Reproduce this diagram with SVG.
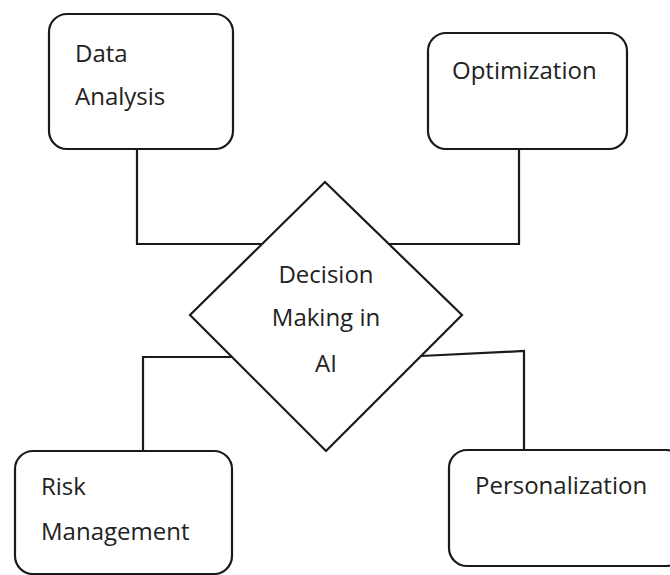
<svg xmlns="http://www.w3.org/2000/svg" width="670" height="575" viewBox="0 0 670 575">
  <style>
    .box { fill: #ffffff; stroke: #1a1a1a; stroke-width: 2.2; }
    .link { fill: none; stroke: #1a1a1a; stroke-width: 2.2; }
    .label { font-family: "Open Sans", "Liberation Sans", sans-serif; font-size: 24px; fill: #222222; }
  </style>
  <rect width="670" height="575" fill="#ffffff"/>

  <g id="connectors">
    <polyline class="link" points="137,149 137,244 263,244"/>
    <polyline class="link" points="519,149 519,244 389,244"/>
    <polyline class="link" points="143,451 143,357 232,357"/>
    <polyline class="link" points="421,356 524,351 524,450"/>
  </g>

  <g id="data-analysis">
    <rect class="box" x="49" y="14" width="184" height="135" rx="18"/>
    <text class="label" x="75" y="62">Data</text>
    <text class="label" x="75" y="105">Analysis</text>
  </g>

  <g id="optimization">
    <rect class="box" x="428" y="33" width="199" height="116" rx="18"/>
    <text class="label" x="452" y="79">Optimization</text>
  </g>

  <g id="decision">
    <polygon class="box" points="325,182 462,315 326,451 190,315"/>
    <text class="label" x="326" y="283" text-anchor="middle">Decision</text>
    <text class="label" x="326" y="326" text-anchor="middle">Making in</text>
    <text class="label" x="326" y="372" text-anchor="middle">AI</text>
  </g>

  <g id="risk-management">
    <rect class="box" x="15" y="451" width="217" height="123" rx="18"/>
    <text class="label" x="41" y="495">Risk</text>
    <text class="label" x="41" y="540">Management</text>
  </g>

  <g id="personalization">
    <rect class="box" x="449" y="450" width="235" height="116" rx="18"/>
    <text class="label" x="475" y="494">Personalization</text>
  </g>
</svg>
